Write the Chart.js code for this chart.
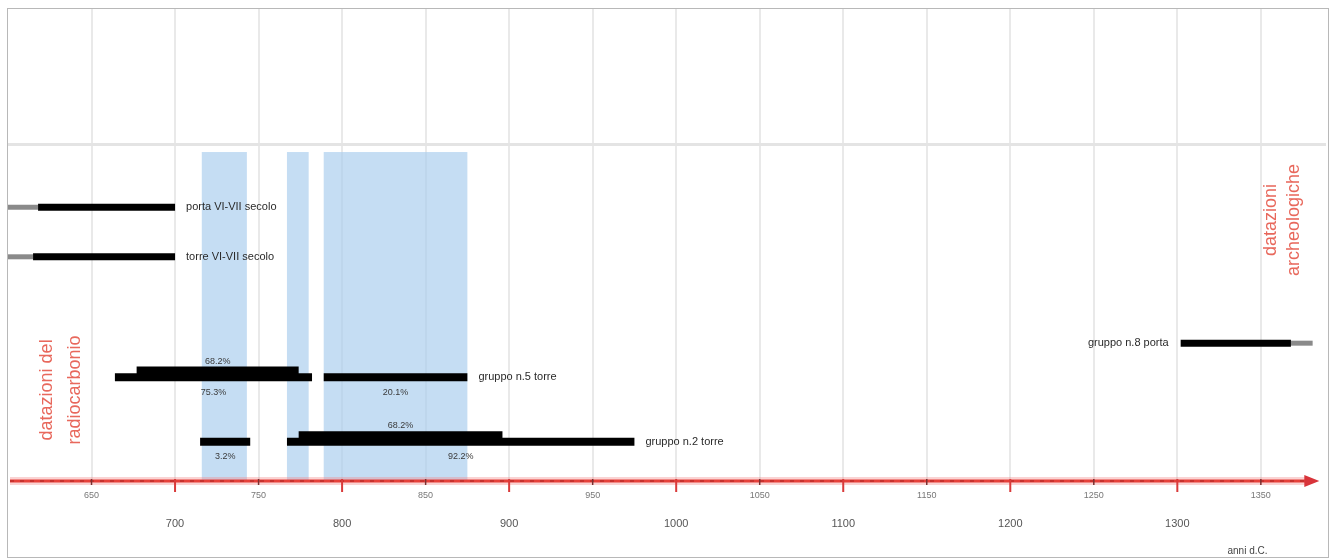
<!DOCTYPE html>
<html>
<head>
<meta charset="utf-8">
<script src="https://cdn.jsdelivr.net/npm/chart.js@4.4.1/dist/chart.umd.min.js"></script>
<style>
  html, body { margin: 0; padding: 0; background: #fff; }
  #wrap { position: relative; width: 1332px; height: 558px; }
  #frame { position: absolute; left: 7px; top: 8px; width: 1320px; height: 548px; border: 1px solid #b8b8b8; pointer-events: none; }
</style>
</head>
<body>
<div id="wrap">
  <canvas id="myChart" width="1332" height="558"></canvas>
  <div id="frame"></div>
</div>
<script>
// rows of the chart (lane = vertical position on the y scale)
const rowNames = ['porta VI-VII secolo', 'torre VI-VII secolo', 'gruppo n.8 porta', 'gruppo n.5 torre', 'gruppo n.2 torre'];
const rowLanes = [5.8, 4.75, 2.92, 2.2, 0.83];
const rowLabelSide = ['right', 'right', 'left', 'right', 'right'];

// archaeological dating (row index, certain part, uncertain part)
const archRow = [0, 1, 2];
const archStart = [618, 615, 1302];
const archEnd = [700, 700, 1368];
const archFuzzyStart = [600, 600, 1368];
const archFuzzyEnd = [618, 615, 1381];

// radiocarbon ranges
const c14Row = [3, 3, 3, 4, 4, 4];
const c14Level = [68, 95, 95, 68, 95, 95];
const c14Start = [677, 664, 789, 774, 715, 767];
const c14End = [774, 782, 875, 896, 745, 975];
const c14Prob = ['68.2%', '75.3%', '20.1%', '68.2%', '3.2%', '92.2%'];

// overlap bands (light blue)
const bandStart = [716, 767, 789];
const bandEnd = [743, 780, 875];
const bandTop = 6.97;

// axis
const yearMin = 600;
const yearMax = 1389;
const minorTicks = [650, 700, 750, 800, 850, 900, 950, 1000, 1050, 1100, 1150, 1200, 1250, 1300, 1350];
const majorTicks = [700, 800, 900, 1000, 1100, 1200, 1300];
const arrowEnd = 1385;
const headerLine = 7.12;

const FONT = "'Liberation Sans', Arial, sans-serif";

const datasets = [];
function addSegment(start, end, lane, color, width, order) {
  datasets.push({
    data: [{ x: start, y: lane }, { x: end, y: lane }],
    borderColor: color,
    borderWidth: width,
    pointRadius: 0,
    fill: false,
    tension: 0,
    order: order
  });
}

for (let i = 0; i < archRow.length; i++) {
  const lane = rowLanes[archRow[i]];
  addSegment(archFuzzyStart[i], archFuzzyEnd[i], lane, '#8a8a8a', 5, 2);
  addSegment(archStart[i], archEnd[i], lane, '#000', 7, 1);
}
for (let i = 0; i < c14Row.length; i++) {
  const lane = rowLanes[c14Row[i]] + (c14Level[i] === 68 ? 0.14 : 0);
  addSegment(c14Start[i], c14End[i], lane, '#000', 8, 1);
}

const decor = {
  id: 'decor',
  beforeDatasetsDraw(chart) {
    const { ctx, scales: { x, y } } = chart;
    ctx.save();
    ctx.fillStyle = 'rgba(170, 205, 238, 0.68)';
    for (let i = 0; i < bandStart.length; i++) {
      const x0 = x.getPixelForValue(bandStart[i]);
      const x1 = x.getPixelForValue(bandEnd[i]);
      const y0 = y.getPixelForValue(bandTop);
      const y1 = y.getPixelForValue(0);
      ctx.fillRect(x0, y0, x1 - x0, y1 - y0);
    }
    ctx.restore();
  },
  afterDatasetsDraw(chart) {
    const { ctx, chartArea, scales: { x, y } } = chart;
    ctx.save();

    // red time axis with arrow
    const ay = chartArea.bottom;
    const ax0 = x.getPixelForValue(yearMin) + 2;
    const ax1 = x.getPixelForValue(arrowEnd);
    ctx.strokeStyle = 'rgba(240, 130, 130, 0.35)';
    ctx.lineWidth = 8;
    ctx.beginPath(); ctx.moveTo(ax0, ay); ctx.lineTo(ax1 - 12, ay); ctx.stroke();
    ctx.strokeStyle = '#e5403a';
    ctx.lineWidth = 3;
    ctx.beginPath(); ctx.moveTo(ax0, ay); ctx.lineTo(ax1 - 10, ay); ctx.stroke();
    ctx.strokeStyle = '#a82222';
    ctx.lineWidth = 1;
    ctx.setLineDash([4, 6]);
    ctx.beginPath(); ctx.moveTo(ax0, ay); ctx.lineTo(ax1 - 14, ay); ctx.stroke();
    ctx.setLineDash([]);
    ctx.fillStyle = '#d8343a';
    ctx.beginPath();
    ctx.moveTo(ax1, ay);
    ctx.lineTo(ax1 - 15, ay - 6);
    ctx.lineTo(ax1 - 15, ay + 6);
    ctx.closePath();
    ctx.fill();
    minorTicks.forEach(v => {
      const px = x.getPixelForValue(v);
      const major = v % 100 === 0;
      ctx.strokeStyle = major ? '#d93a3a' : '#7a3030';
      ctx.lineWidth = major ? 2 : 1.5;
      ctx.beginPath();
      ctx.moveTo(px, ay - 2);
      ctx.lineTo(px, ay + (major ? 11 : 4));
      ctx.stroke();
    });

    // row labels
    ctx.font = '11px ' + FONT;
    ctx.fillStyle = '#2a2a2a';
    ctx.textBaseline = 'middle';
    for (let r = 0; r < rowNames.length; r++) {
      let lo = Infinity, hi = -Infinity;
      for (let i = 0; i < archRow.length; i++) {
        if (archRow[i] === r) { lo = Math.min(lo, archStart[i]); hi = Math.max(hi, archEnd[i]); }
      }
      for (let i = 0; i < c14Row.length; i++) {
        if (c14Row[i] === r) { lo = Math.min(lo, c14Start[i]); hi = Math.max(hi, c14End[i]); }
      }
      const py = y.getPixelForValue(rowLanes[r]);
      if (rowLabelSide[r] === 'right') {
        ctx.textAlign = 'left';
        ctx.fillText(rowNames[r], x.getPixelForValue(hi) + 11, py);
      } else {
        ctx.textAlign = 'right';
        ctx.fillText(rowNames[r], x.getPixelForValue(lo) - 12, py);
      }
    }

    // probability labels
    ctx.font = '9px ' + FONT;
    ctx.fillStyle = '#3a3a3a';
    ctx.textAlign = 'center';
    for (let i = 0; i < c14Row.length; i++) {
      const cx = x.getPixelForValue((c14Start[i] + c14End[i]) / 2);
      const base = y.getPixelForValue(rowLanes[c14Row[i]]);
      const py = c14Level[i] === 68 ? base - 16 : base + 15;
      ctx.fillText(c14Prob[i], cx, py);
    }

    // red vertical titles
    ctx.fillStyle = '#e8685c';
    ctx.font = '18px ' + FONT;
    ctx.textAlign = 'center';
    ctx.textBaseline = 'middle';
    ctx.save();
    ctx.translate(x.getPixelForValue(632), y.getPixelForValue(1.93));
    ctx.rotate(-Math.PI / 2);
    ctx.fillText('datazioni del', 0, -14);
    ctx.fillText('radiocarbonio', 0, 14);
    ctx.restore();
    ctx.save();
    ctx.translate(x.getPixelForValue(1363), y.getPixelForValue(5.53));
    ctx.rotate(-Math.PI / 2);
    ctx.fillText('datazioni', 0, -11.5);
    ctx.fillText('archeologiche', 0, 11.5);
    ctx.restore();

    // unit
    ctx.font = '10px ' + FONT;
    ctx.fillStyle = '#444';
    ctx.textAlign = 'left';
    ctx.textBaseline = 'alphabetic';
    ctx.fillText('anni d.C.', x.getPixelForValue(1330), 554);

    ctx.restore();
  }
};

const ctx = document.getElementById('myChart').getContext('2d');
const myChart = new Chart(ctx, {
  type: 'line',
  data: { datasets: datasets },
  options: {
    responsive: false,
    devicePixelRatio: 1,
    animation: false,
    layout: { padding: { left: 8, right: 6, top: 9, bottom: 19 } },
    plugins: { legend: { display: false }, tooltip: { enabled: false } },
    scales: {
      x: {
        type: 'linear',
        min: yearMin,
        max: yearMax,
        weight: 0,
        afterBuildTicks: s => { s.ticks = minorTicks.map(v => ({ value: v })); },
        grid: { color: '#e9e9e9', lineWidth: 2, drawTicks: false },
        border: { display: false },
        ticks: {
          padding: 9,
          autoSkip: false,
          maxRotation: 0,
          color: '#777',
          font: { family: FONT, size: 9 },
          callback: v => (v % 100 === 50 ? String(v) : '')
        }
      },
      x2: {
        type: 'linear',
        position: 'bottom',
        min: yearMin,
        max: yearMax,
        weight: 1,
        afterBuildTicks: s => { s.ticks = majorTicks.map(v => ({ value: v })); },
        grid: { display: false, drawTicks: false },
        border: { display: false },
        ticks: {
          padding: 8,
          autoSkip: false,
          maxRotation: 0,
          color: '#555',
          font: { family: FONT, size: 11 },
          callback: v => String(v)
        }
      },
      y: {
        type: 'linear',
        min: 0,
        max: 10,
        afterBuildTicks: s => { s.ticks = [{ value: headerLine }]; },
        grid: { color: '#e4e4e4', lineWidth: 3, drawTicks: false },
        border: { display: false },
        ticks: { display: false }
      }
    }
  },
  plugins: [decor]
});
</script>
</body>
</html>
